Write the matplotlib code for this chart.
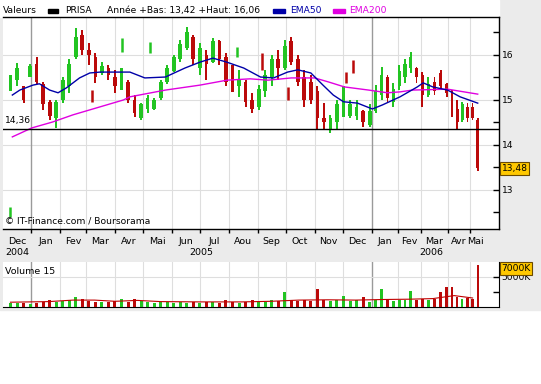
import matplotlib
matplotlib.use("Agg")
from matplotlib import pyplot as plt
from matplotlib.patches import Rectangle
import matplotlib.dates as mdates
import matplotlib.transforms as mtrans
import numpy as np
import pandas as pd

# weekly bars (Friday of each week)
weeks = pd.date_range("2004-12-10", "2006-05-12", freq="W-FRI")
opens = [15.25, 15.45, 15.30, 15.50, 15.80, 15.35, 14.95, 14.60, 15.00, 15.30,
         15.95, 16.45, 16.10, 15.95, 15.60, 15.70, 15.50, 15.30, 15.40, 15.00,
         14.60, 14.80, 14.80, 15.05, 15.40, 15.65, 15.90, 16.15, 16.40, 15.70,
         16.00, 15.85, 16.30, 15.95, 15.60, 15.30, 15.40, 15.00, 14.85, 15.20,
         15.50, 15.90, 15.70, 16.30, 15.90, 15.50, 15.40, 15.20, 14.60, 14.35,
         14.50, 14.90, 14.65, 14.65, 14.75, 14.45, 14.75, 15.10, 15.50, 14.95,
         15.30, 15.50, 15.70, 15.70, 15.55, 15.10, 15.40, 15.60, 15.35, 15.15,
         14.80, 14.55, 14.85, 14.85, 14.55]
highs = [15.55, 15.82, 15.30, 15.80, 15.95, 15.40, 15.00, 15.00, 15.50, 15.90,
         16.60, 16.55, 16.27, 16.04, 15.85, 15.78, 15.67, 15.70, 15.45, 15.10,
         14.93, 15.10, 15.05, 15.45, 15.78, 16.00, 16.33, 16.62, 16.45, 16.27,
         16.10, 16.38, 16.33, 16.04, 15.78, 15.67, 15.45, 15.15, 15.33, 15.67,
         16.00, 16.10, 16.33, 16.40, 16.00, 15.67, 15.55, 15.30, 14.93, 14.67,
         15.00, 15.30, 15.00, 15.00, 14.78, 14.90, 15.33, 15.73, 15.55, 15.38,
         15.78, 15.90, 16.06, 15.73, 15.62, 15.50, 15.50, 15.67, 15.38, 15.22,
         15.00, 14.95, 14.93, 14.93, 14.60]
lows = [15.20, 15.30, 14.93, 15.50, 15.35, 14.78, 14.55, 14.38, 14.93, 15.15,
        15.90, 16.00, 15.78, 15.38, 15.55, 15.45, 15.15, 15.22, 14.93, 14.62,
        14.55, 14.70, 14.78, 15.00, 15.35, 15.62, 15.85, 16.10, 15.78, 15.55,
        15.45, 15.82, 15.78, 15.30, 15.18, 15.07, 14.85, 14.70, 14.78, 15.07,
        15.30, 15.45, 15.67, 15.78, 15.30, 14.85, 14.90, 14.33, 14.33, 14.27,
        14.33, 14.62, 14.60, 14.55, 14.40, 14.40, 14.70, 15.00, 14.93, 14.85,
        15.22, 15.38, 15.60, 15.38, 14.85, 15.07, 15.10, 15.22, 15.07, 14.62,
        14.33, 14.50, 14.50, 14.55, 13.42]
closes = [15.50, 15.70, 15.00, 15.75, 15.40, 14.90, 14.65, 14.95, 15.45, 15.80,
          16.40, 16.10, 16.00, 15.50, 15.75, 15.55, 15.30, 15.60, 15.00, 14.70,
          14.90, 15.05, 15.00, 15.40, 15.70, 15.95, 16.25, 16.50, 15.90, 16.15,
          15.80, 16.30, 15.90, 15.40, 15.30, 15.45, 14.95, 14.80, 15.25, 15.55,
          15.90, 15.70, 16.20, 15.85, 15.40, 15.00, 15.00, 14.60, 14.50, 14.60,
          14.90, 15.10, 14.90, 14.85, 14.50, 14.75, 15.20, 15.55, 15.05, 15.25,
          15.65, 15.80, 15.95, 15.50, 15.10, 15.35, 15.20, 15.30, 15.15, 14.75,
          14.50, 14.90, 14.60, 14.60, 13.48]
volumes = [600, 700, 600, 500, 700, 800, 1100, 900, 1000, 1200,
           1700, 1300, 1000, 800, 800, 900, 1000, 1300, 900, 1400,
           1000, 800, 700, 800, 900, 700, 800, 700, 800, 700,
           800, 900, 700, 1100, 800, 700, 900, 1200, 800, 900,
           1200, 1000, 2500, 1100, 1000, 1100, 1000, 3000, 1100, 1000,
           1100, 1800, 1000, 1100, 1600, 900, 1100, 3000, 1100, 1000,
           1100, 1200, 2700, 1200, 1300, 1100, 1300, 2500, 3300, 3300,
           1600, 1400, 1500, 1300, 7000]

# isolated ticks away from the main band
spike_dates = ["2004-12-09", "2005-03-07", "2005-04-08", "2005-05-09", "2005-08-10",
               "2005-09-06", "2005-10-04", "2005-12-05", "2005-12-12"]
spike_lo = [12.40, 14.96, 16.07, 16.04, 15.96, 15.67, 15.00, 15.38, 15.60]
spike_hi = [12.62, 15.22, 16.38, 16.29, 16.18, 16.04, 15.29, 15.62, 15.89]
spike_up = [True, False, True, True, True, False, False, False, False]

ema50_dates = ["2004-12-12", "2004-12-20", "2005-01-03", "2005-01-10", "2005-01-21",
               "2005-01-30", "2005-02-08", "2005-02-22", "2005-03-05", "2005-03-16",
               "2005-04-17", "2005-05-03", "2005-05-25", "2005-06-15", "2005-07-01",
               "2005-07-15", "2005-07-30", "2005-08-17", "2005-09-04", "2005-09-18",
               "2005-10-03", "2005-10-14", "2005-10-28", "2005-11-10", "2005-11-21",
               "2005-12-02", "2005-12-17", "2006-01-02", "2006-01-14", "2006-02-04",
               "2006-02-25", "2006-03-04", "2006-03-15", "2006-04-01", "2006-04-18",
               "2006-05-12"]
ema50 = [15.11, 15.22, 15.33, 15.36, 15.22, 15.16, 15.27, 15.49, 15.60, 15.62,
         15.62, 15.49, 15.51, 15.71, 15.84, 15.93, 15.84, 15.71, 15.51, 15.49,
         15.62, 15.67, 15.60, 15.33, 15.11, 14.96, 14.93, 14.80, 14.89, 15.07,
         15.29, 15.38, 15.29, 15.22, 15.07, 14.93]

ema200_dates = ["2004-12-12", "2005-01-02", "2005-01-24", "2005-02-15", "2005-03-05",
                "2005-03-23", "2005-04-10", "2005-04-17", "2005-05-25", "2005-07-01",
                "2005-07-30", "2005-08-24", "2005-09-12", "2005-10-07", "2005-11-01",
                "2005-11-16", "2005-12-03", "2005-12-29", "2006-01-20", "2006-02-04",
                "2006-02-19", "2006-04-01", "2006-05-12"]
ema200 = [14.18, 14.38, 14.51, 14.67, 14.78, 14.89, 15.00, 15.07, 15.22, 15.33,
          15.44, 15.47, 15.44, 15.49, 15.49, 15.40, 15.29, 15.22, 15.16, 15.18,
          15.22, 15.24, 15.13]

volma_dates = ["2004-12-10", "2005-01-20", "2005-02-15", "2005-03-10", "2005-04-01",
               "2005-04-25", "2005-05-20", "2005-07-01", "2005-08-15", "2005-09-15",
               "2005-10-15", "2005-11-15", "2005-12-15", "2006-01-15", "2006-02-15",
               "2006-03-15", "2006-04-10", "2006-05-05"]
volma = [800, 900, 1150, 1150, 950, 1100, 900, 850, 850, 950,
         1150, 1200, 1150, 1250, 1300, 1400, 1900, 1500]

support = 14.36
last_close = 13.48
months = ["Dec", "Jan", "Fev", "Mar", "Avr", "Mai", "Jun", "Jul", "Aou", "Sep",
          "Oct", "Nov", "Dec", "Jan", "Fev", "Mar", "Avr", "Mai"]
years = ["2004", "2005", "2006"]

GREEN = "#22c422"
RED = "#bb0a0a"
BG = "#ebebeb"
GRID = "#dedede"

# the time axis is not uniform in the original: 2006 is squeezed
anchor_dates = mdates.date2num(pd.to_datetime(
    ["2004-11-01", "2005-01-01", "2006-01-01", "2006-02-01", "2006-03-01",
     "2006-04-01", "2006-05-01", "2006-07-01"]))
anchor_pos = np.array([-25.9, 31, 371, 397, 420, 447, 469, 513.7])


def fwd(x):
    return np.interp(x, anchor_dates, anchor_pos)


def inv(p):
    return np.interp(p, anchor_pos, anchor_dates)


W, H = 541, 384
fig = plt.figure(figsize=(W / 100, H / 100), dpi=100)
fig.patch.set_facecolor("white")
fig.add_artist(Rectangle((0, 1 - 310 / H), 1, 310 / H, transform=fig.transFigure,
                         color=BG, zorder=-10))
fig.add_artist(Rectangle((0, 1 - 17 / H), 499 / W, 17 / H, transform=fig.transFigure,
                         color="white", zorder=-9))

ax = fig.add_axes([3 / W, 1 - 229 / H, 496 / W, 212 / H])
vax = fig.add_axes([3 / W, 1 - 307 / H, 496 / W, 45 / H])
for a in (ax, vax):
    a.set_xscale("function", functions=(fwd, inv))
    a.set_xlim(mdates.date2num(pd.Timestamp("2004-12-02")),
               mdates.date2num(pd.Timestamp("2006-06-10")))

x = mdates.date2num(weeks)
up = np.array(closes) >= np.array(opens)
cols = [GREEN if u else RED for u in up]

# price bars: high-low range as a thin block, open-close a touch wider
hl = np.array(highs) - np.array(lows)
ax.bar(x, hl, bottom=lows, width=2.2, color=cols, linewidth=0, zorder=3)
body_lo = np.minimum(opens, closes)
body_h = np.maximum(np.abs(np.array(closes) - np.array(opens)), 0.04)
ax.bar(x, body_h, bottom=body_lo, width=4.0, color=cols, linewidth=0, zorder=3)
sx = mdates.date2num(pd.to_datetime(spike_dates))
ax.vlines(sx, spike_lo, spike_hi, colors=[GREEN if u else RED for u in spike_up],
          linewidth=1.8, zorder=3)

ax.plot(mdates.date2num(pd.to_datetime(ema200_dates)), ema200, color="#e000e0",
        linewidth=1, zorder=4)
ax.plot(mdates.date2num(pd.to_datetime(ema50_dates)), ema50, color="#0000a8",
        linewidth=1, zorder=4)
ax.axhline(support, color="black", linewidth=1, zorder=5)

ax.set_ylim(12.133, 16.844)
ax.set_yticks([13, 14, 15, 16])
ax.set_yticks([12.5, 13.5, 14.5, 15.5, 16.5], minor=True)
ax.yaxis.tick_right()
ax.tick_params(axis="y", which="both", direction="in", length=4, width=1,
               labelsize=6.6, pad=2)
ax.grid(False)
for v in [13, 14, 15, 16]:
    ax.axhline(v, color=GRID, linewidth=0.8, zorder=1)

month_starts = pd.date_range("2005-01-01", "2006-05-01", freq="MS")
ms = mdates.date2num(month_starts)
for a in (ax, vax):
    for m, d in zip(ms, month_starts):
        if d.month == 1:
            a.axvline(m, color="#9a9a9a", linewidth=1, zorder=1)
        else:
            a.axvline(m, color=GRID, linewidth=0.8, zorder=1)

ax.set_xticks(ms)
ax.set_xticklabels([])
ax.tick_params(axis="x", direction="out", length=3, width=1)
ax.spines["left"].set_visible(False)
for s in ("top", "right", "bottom"):
    ax.spines[s].set_linewidth(1)

# month and year labels under the price panel
left_lim = mdates.date2num(pd.Timestamp("2004-12-02"))
last_day = mdates.date2num(pd.Timestamp("2006-05-10"))
edges = np.concatenate([[left_lim], ms, [last_day + 6]])
trans = mtrans.blended_transform_factory(ax.transData, ax.transAxes)
for name, a0, a1 in zip(months, edges[:-1], edges[1:]):
    mid = inv((fwd(a0) + fwd(a1)) / 2)
    ax.text(mid, -0.057, name, transform=trans, ha="center", va="center",
            fontsize=6.8, clip_on=False)
year_mid = [inv((fwd(edges[0]) + fwd(ms[0])) / 2),
            inv((fwd(ms[0]) + fwd(ms[12])) / 2),
            inv((fwd(ms[12]) + fwd(last_day + 20)) / 2)]
for name, xm in zip(years, year_mid):
    ax.text(xm, -0.113, name, transform=trans, ha="center", va="center",
            fontsize=6.8, clip_on=False)

ax.annotate("14,36", xy=(0.004, support), xycoords=("axes fraction", "data"),
            xytext=(0, 2.5), textcoords="offset points", fontsize=6.6,
            ha="left", va="bottom")
ax.text(0.004, 0.036, "\u00a9 IT-Finance.com / Boursorama", transform=ax.transAxes,
        fontsize=6.6, ha="left", va="center")
rtrans = mtrans.blended_transform_factory(ax.transAxes, ax.transData)
ax.text(1.005, last_close, "13,48", transform=rtrans, fontsize=6.6, ha="left",
        va="center", clip_on=False,
        bbox=dict(boxstyle="square,pad=0.18", facecolor="#ffc800",
                  edgecolor="#6b4a00", linewidth=0.8))

# volume panel
vax.bar(x, volumes, width=3.2, color=cols, linewidth=0, zorder=3)
vax.plot(mdates.date2num(pd.to_datetime(volma_dates)), volma, color="#c00000",
         linewidth=0.8, zorder=4)
vax.set_ylim(0, 7500)
vax.set_yticks([5000])
vax.set_yticklabels(["5000K"])
vax.set_yticks([2500], minor=True)
vax.yaxis.tick_right()
vax.tick_params(axis="y", which="both", direction="in", length=4, width=1,
                labelsize=6.6, pad=2)
vax.axhline(5000, color=GRID, linewidth=0.8, zorder=1)
vax.set_xticks([])
vax.spines["top"].set_visible(False)
vax.spines["left"].set_visible(False)
vax.text(0.004, 0.78, "Volume 15", transform=vax.transAxes, fontsize=6.8,
         ha="left", va="center")
vax.text(1.005, 0.855, "7000K", transform=vax.transAxes, fontsize=6.6, ha="left",
         va="center", clip_on=False, zorder=10,
         bbox=dict(boxstyle="square,pad=0.18", facecolor="#ffc800",
                   edgecolor="#6b4a00", linewidth=0.8))

# legend row above the price panel
ty = 1 - 10.5 / H
fig.text(3 / W, ty, "Valeurs", fontsize=6.6, va="center")
fig.add_artist(Rectangle((48 / W, 1 - 13 / H), 10 / W, 4 / H,
                         transform=fig.transFigure, color="black"))
fig.text(65 / W, ty, "PRISA", fontsize=6.6, va="center")
fig.text(107 / W, ty, "Ann\u00e9e +Bas: 13,42 +Haut: 16,06", fontsize=6.6, va="center")
fig.add_artist(Rectangle((273 / W, 1 - 13 / H), 12 / W, 4 / H,
                         transform=fig.transFigure, color="#0000a8"))
fig.text(290 / W, ty, "EMA50", fontsize=6.6, va="center", color="#0000a8")
fig.add_artist(Rectangle((333 / W, 1 - 13 / H), 12 / W, 4 / H,
                         transform=fig.transFigure, color="#e000e0"))
fig.text(349 / W, ty, "EMA200", fontsize=6.6, va="center", color="#e000e0")

fig.savefig("out.png", dpi=100)
